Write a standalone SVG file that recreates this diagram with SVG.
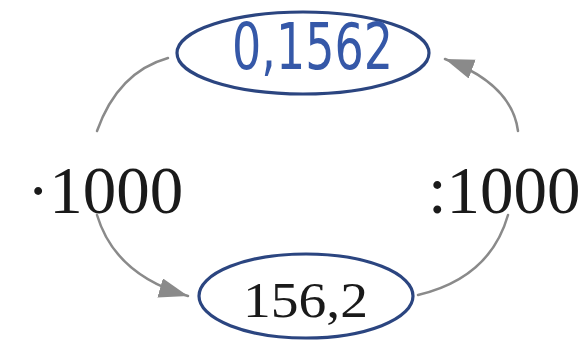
<svg xmlns="http://www.w3.org/2000/svg" width="587" height="344" viewBox="0 0 587 344">
  <style>
    .node { fill: none; stroke: #2b4580; stroke-width: 3.2; }
    .conn { fill: none; stroke: #8a8a8a; stroke-width: 2.5; stroke-linecap: round; }
    .lbl { font-family: "Liberation Serif", "Times New Roman", serif; font-size: 67px; fill: #1a1a1a; }
    .num { font-family: "Liberation Serif", "Times New Roman", serif; font-size: 50px; fill: #1a1a1a; }
    .hand { font-family: "DejaVu Sans", "Liberation Sans", sans-serif; font-size: 64px; fill: #3558a8; }
  </style>
  <defs>
    <marker id="arrow" markerUnits="userSpaceOnUse" markerWidth="32" markerHeight="22" refX="29" refY="10" orient="auto">
      <path d="M0,0 L29,10 L0,20 Z" fill="#8a8a8a"/>
    </marker>
  </defs>
  <rect width="587" height="344" fill="#ffffff"/>
  <g id="connectors">
    <path class="conn" d="M97,131 Q118,72 168,58"/>
    <path class="conn" d="M518,131 Q512,84 445,59" marker-end="url(#arrow)"/>
    <path class="conn" d="M97,215 Q115,275 188,296" marker-end="url(#arrow)"/>
    <path class="conn" d="M508,215 Q490,278 418,295"/>
  </g>
  <g id="node-top">
    <ellipse class="node" cx="303" cy="53" rx="126" ry="41"/>
    <text class="hand" x="232" y="69" textLength="161" lengthAdjust="spacingAndGlyphs">0,1562</text>
  </g>
  <g id="node-bottom">
    <ellipse class="node" cx="306" cy="296" rx="107" ry="42"/>
    <text class="num" x="243" y="317" textLength="125" lengthAdjust="spacingAndGlyphs">156,2</text>
  </g>
  <g id="label-left">
    <text class="lbl" x="27" y="213">·1000</text>
  </g>
  <g id="label-right">
    <text class="lbl" x="428" y="213">:1000</text>
  </g>
</svg>
